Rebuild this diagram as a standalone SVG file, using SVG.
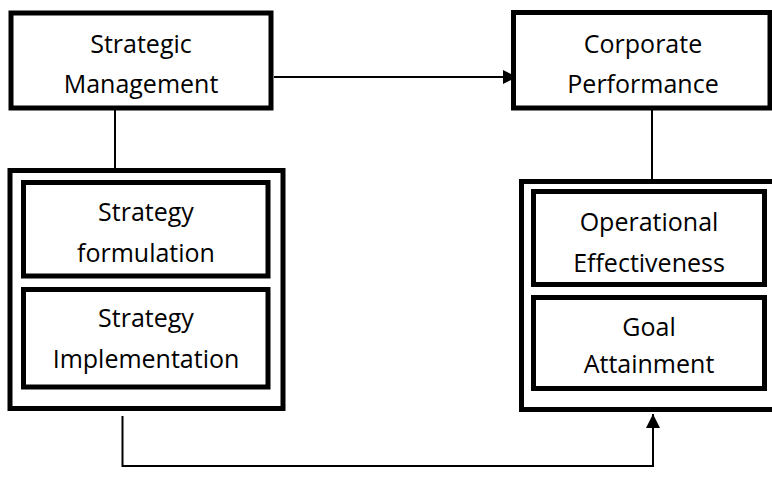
<svg xmlns="http://www.w3.org/2000/svg" width="772" height="477" viewBox="0 0 772 477">
  <style>
    .box { fill: #ffffff; stroke: #000000; stroke-width: 5; }
    .line { fill: none; stroke: #000000; stroke-width: 2; }
    text { font-family: "Open Sans", "Liberation Sans", sans-serif; font-size: 25px; fill: #000000; text-anchor: middle; }
  </style>
  <defs>
    <marker id="arrow" viewBox="0 0 10 10" refX="10" refY="5" markerWidth="7" markerHeight="7" markerUnits="userSpaceOnUse" orient="auto">
      <path d="M0,0 L10,5 L0,10 z" fill="#000000"/>
    </marker>
    <marker id="head" viewBox="0 0 14 14" refX="14" refY="7" markerWidth="14" markerHeight="14" markerUnits="userSpaceOnUse" orient="auto">
      <path d="M0,0 L14,7 L0,14 z" fill="#000000"/>
    </marker>
  </defs>
  <rect width="772" height="477" fill="#ffffff"/>

  <!-- connectors -->
  <g id="connectors">
    <line class="line" x1="274" y1="77" x2="517" y2="77" marker-end="url(#head)"/>
    <line class="line" x1="115" y1="110" x2="115" y2="171"/>
    <line class="line" x1="652" y1="110" x2="652" y2="190"/>
    <polyline class="line" points="122.5,416 122.5,466 653,466 653,414" marker-end="url(#head)"/>
  </g>

  <g id="strategic-management">
    <rect class="box" x="11" y="13" width="260" height="95"/>
    <text x="141" y="53">Strategic</text>
    <text x="141" y="93">Management</text>
  </g>

  <g id="corporate-performance">
    <rect class="box" x="513.5" y="12.5" width="256.5" height="95.5"/>
    <text x="643" y="53">Corporate</text>
    <text x="643" y="93">Performance</text>
  </g>

  <g id="strategy-group">
    <rect class="box" x="10" y="170.5" width="273" height="238"/>
  </g>

  <g id="strategy-formulation">
    <rect class="box" x="23.5" y="182.5" width="244.5" height="93.5"/>
    <text x="146" y="221">Strategy</text>
    <text x="146" y="262">formulation</text>
  </g>

  <g id="strategy-implementation">
    <rect class="box" x="23.5" y="289.5" width="244.5" height="97.5"/>
    <text x="146" y="327">Strategy</text>
    <text x="146" y="368">Implementation</text>
  </g>

  <g id="performance-group">
    <rect class="box" x="521.5" y="181.5" width="256" height="228"/>
  </g>

  <g id="operational-effectiveness">
    <rect class="box" x="533.5" y="191.5" width="231" height="93"/>
    <text x="649" y="231">Operational</text>
    <text x="649" y="272">Effectiveness</text>
  </g>

  <g id="goal-attainment">
    <rect class="box" x="533.5" y="297.5" width="231" height="91"/>
    <text x="649" y="336">Goal</text>
    <text x="649" y="373">Attainment</text>
  </g>
</svg>
